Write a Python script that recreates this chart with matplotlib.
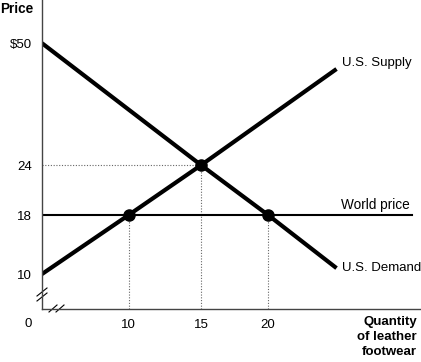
import numpy as np
import matplotlib
matplotlib.use("Agg")
import matplotlib.pyplot as plt

# Schematic chart: the axes are not drawn to scale, so values are mapped
# through piecewise-linear scales built from the tick knots.
price_ticks = [10, 18, 24, 50]
price_labels = ["10", "18", "24", "$50"]
qty_ticks = [10, 15, 20]
qty_labels = ["10", "15", "20"]

supply_q = [0, 10, 15, 25.1]
supply_p = [10, 18, 24, 44.5]
demand_q = [0, 15, 20, 25.1]
demand_p = [50, 24, 18, 10.8]
world_price = 18
world_q = [0, 30.7]

eq_q, eq_p = 15, 24
pts_q = [10, 15, 20]
pts_p = [18, 24, 18]

# scale knots (value -> display position), axis is schematic
x_vals = [0, 10, 15, 20, 40]
x_pos = [0, 86.5, 159, 226, 494]
y_vals = [0, 10, 18, 24, 50, 70]
y_pos = [0, 35, 94, 144, 266, 360]

plt.rcParams['font.family'] = ['Liberation Sans', 'DejaVu Sans']

fig = plt.figure(figsize=(4.21, 3.62), dpi=100)
ax = fig.add_axes([42 / 421, 53 / 362, 379 / 421, 309 / 362])

ax.set_xscale('function', functions=(lambda v: np.interp(v, x_vals, x_pos),
                                     lambda p: np.interp(p, x_pos, x_vals)))
ax.set_yscale('function', functions=(lambda v: np.interp(v, y_vals, y_pos),
                                     lambda p: np.interp(p, y_pos, y_vals)))

ax.set_xlim(0, 31.4)
ax.set_ylim(0, 59.2)

# guide lines
ax.plot([0, eq_q], [eq_p, eq_p], color='#666666', lw=0.8, ls=(0, (1, 1.5)))
for q, p in zip(pts_q, pts_p):
    ax.plot([q, q], [0, p], color='#666666', lw=0.8, ls=(0, (1, 1.5)))

ax.plot(world_q, [world_price, world_price], color='black', lw=1.5)
ax.plot(supply_q, supply_p, color='black', lw=3, solid_capstyle='butt')
ax.plot(demand_q, demand_p, color='black', lw=3, solid_capstyle='butt')
ax.plot(pts_q, pts_p, 'o', color='black', ms=8, zorder=5)

ax.annotate("U.S. Supply", (supply_q[-1], supply_p[-1]), xytext=(3.6, 4.3),
            textcoords='offset points', ha='left', va='center', fontsize=9.5)
ax.annotate("U.S. Demand", (demand_q[-1], demand_p[-1]), xytext=(3.6, 0),
            textcoords='offset points', ha='left', va='center', fontsize=9.5)
ax.annotate("World price", (world_q[-1], world_price), xytext=(-1.5, 2.5),
            textcoords='offset points', ha='right', va='bottom', fontsize=9.8)

ax.set_yticks(price_ticks)
ax.set_yticklabels(price_labels)
ax.set_xticks(qty_ticks)
ax.set_xticklabels(qty_labels)
ax.tick_params(length=0, labelsize=9.5, pad=7)
ax.tick_params(axis='y', pad=7.5)

for s in ['top', 'right']:
    ax.spines[s].set_visible(False)
for s in ['left', 'bottom']:
    ax.spines[s].set_color('#444444')
    ax.spines[s].set_linewidth(1.0)

ax.text(-0.037, -0.047, "0", transform=ax.transAxes, ha='center', va='center', fontsize=9.5)
ax.text(-0.111, 0.972, "Price", transform=ax.transAxes, ha='left', va='center',
        fontsize=9.8, fontweight='bold')
ax.text(0.989, -0.022, "Quantity\nof leather\nfootwear", transform=ax.transAxes,
        ha='right', va='top', fontsize=9.5, fontweight='bold', linespacing=1.35)

# axis break marks
def px(x, y):
    return ((x - 42) / 379, (309 - y) / 309)

for yb in [292, 297]:
    (x0, y0), (x1, y1) = px(37, yb + 4), px(47, yb - 4)
    ax.plot([x0, x1], [y0, y1], transform=ax.transAxes, color='black', lw=0.8, clip_on=False)
for xb in [49, 56]:
    (x0, y0), (x1, y1) = px(xb, 312), px(xb + 8, 305)
    ax.plot([x0, x1], [y0, y1], transform=ax.transAxes, color='black', lw=0.8, clip_on=False)

fig.savefig("out.png", dpi=100)
